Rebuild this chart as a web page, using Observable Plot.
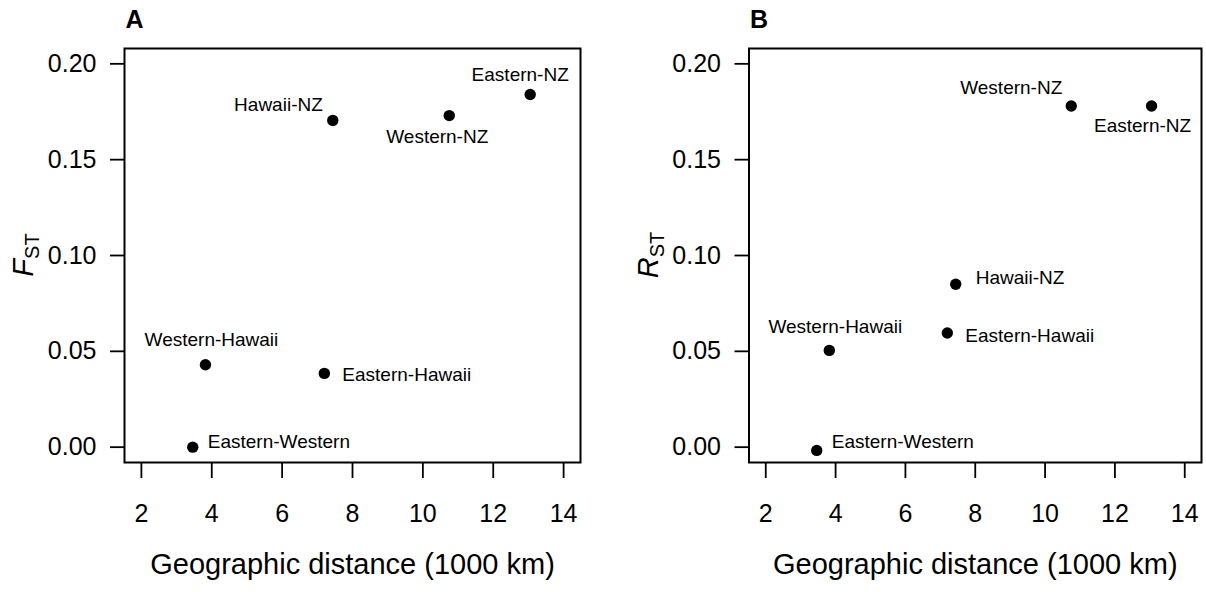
<!DOCTYPE html>
<html>
<head>
<meta charset="utf-8">
<script src="https://cdn.jsdelivr.net/npm/d3@7"></script>
<script src="https://cdn.jsdelivr.net/npm/@observablehq/plot@0.6"></script>
<style>
  html, body { margin: 0; padding: 0; background: #fff; }
  #figure { position: relative; width: 1206px; height: 592px; overflow: hidden; }
  #figure svg { position: absolute; top: 0; display: block; }
</style>
</head>
<body>
<div id="figure"></div>
<script>
// Population pairs and their pairwise values
const pairs    = ["Eastern-Western", "Western-Hawaii", "Eastern-Hawaii", "Hawaii-NZ", "Western-NZ", "Eastern-NZ"];
const distance = [3.46, 3.82, 7.20, 7.44, 10.75, 13.05];   // 1000 km
const fst      = [0.000, 0.043, 0.0385, 0.1705, 0.173, 0.184];
const rst      = [-0.0017, 0.0505, 0.0596, 0.085, 0.178, 0.178];

const xTicks = [2, 4, 6, 8, 10, 12, 14];
const yTicks = [0.00, 0.05, 0.10, 0.15, 0.20];
const xTitle = "Geographic distance (1000 km)";

// Label placement next to each dot: [anchor, dx, dy]
const placeA = {
  "Hawaii-NZ":       ["end",    -10, -15],
  "Western-NZ":      ["middle", -12,  21],
  "Eastern-NZ":      ["middle", -10, -20],
  "Western-Hawaii":  ["middle",   6, -25],
  "Eastern-Hawaii":  ["start",   18,   2],
  "Eastern-Western": ["start",   15,  -5]
};
const placeB = {
  "Western-NZ":      ["end",     -9, -18],
  "Eastern-NZ":      ["middle",  -9,  20],
  "Hawaii-NZ":       ["start",   20,  -6],
  "Western-Hawaii":  ["middle",   6, -23],
  "Eastern-Hawaii":  ["start",   18,   3],
  "Eastern-Western": ["start",   15,  -9]
};

const font = "'Liberation Sans', Arial, Helvetica, sans-serif";

function panel({values, letter, symbol, place, left, marginLeft, marginRight}) {
  const rows = pairs.map((p, i) => ({pair: p, d: distance[i], v: values[i]}));
  const labelMarks = rows.map(r => {
    const [anchor, dx, dy] = place[r.pair];
    return Plot.text([r], {x: "d", y: "v", text: "pair", textAnchor: anchor, dx, dy, fontSize: 19, fill: "black"});
  });
  const svg = Plot.plot({
    width: 603,
    height: 592,
    marginTop: 48,
    marginBottom: 130,
    marginLeft,
    marginRight,
    style: {fontFamily: font, fontSize: "25px", color: "black", background: "white", overflow: "visible"},
    x: {domain: [1.52, 14.48], label: null},
    y: {domain: [-0.008, 0.208], label: null},
    marks: [
      Plot.axisX({ticks: xTicks, tickSize: 16, tickPadding: 26, tickFormat: d => String(d), strokeWidth: 1.8, fontSize: 25, label: null}),
      Plot.axisY({ticks: yTicks, tickSize: 14, tickPadding: 14, tickFormat: d3.format(".2f"), strokeWidth: 1.8, fontSize: 25, label: null}),
      Plot.frame({stroke: "black", strokeWidth: 2}),
      Plot.dot(rows, {x: "d", y: "v", r: 5.7, fill: "black", stroke: "none"}),
      ...labelMarks,
      Plot.text([xTitle], {frameAnchor: "bottom", text: d => d, dy: 111, fontSize: 29, fill: "black"})
    ]
  });
  svg.style.left = left + "px";

  const s = d3.select(svg);
  // Panel letter
  s.append("text")
    .attr("x", marginLeft + 10.5)
    .attr("y", 28)
    .attr("font-size", 25)
    .attr("font-weight", "bold")
    .attr("fill", "black")
    .text(letter);
  // Y title with subscript
  const plotMid = 48 + (592 - 48 - 130) / 2;
  const yt = s.append("text")
    .attr("transform", `translate(${marginLeft - 91},${plotMid}) rotate(-90)`)
    .attr("text-anchor", "middle")
    .attr("fill", "black");
  yt.append("tspan").attr("font-size", 29).attr("font-style", "italic").text(symbol);
  yt.append("tspan").attr("font-size", 20).attr("dy", 6).text("ST");
  return svg;
}

const fig = document.getElementById("figure");
fig.append(panel({values: fst, letter: "A", symbol: "F", place: placeA, left: 0, marginLeft: 124, marginRight: 23}));
fig.append(panel({values: rst, letter: "B", symbol: "R", place: placeB, left: 603, marginLeft: 145.5, marginRight: 5}));
</script>
</body>
</html>
